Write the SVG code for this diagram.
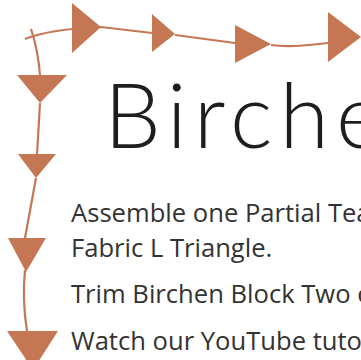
<svg xmlns="http://www.w3.org/2000/svg" width="361" height="360" viewBox="0 0 361 360">
<style>
.ln{fill:none;stroke:#C57753;stroke-width:2.2}
.tri{fill:#C57753}
.body{font-family:"Open Sans",sans-serif;font-size:25.6px;fill:#333}
.title{font-family:Lato,"Liberation Sans",sans-serif;font-weight:300;font-size:90px;letter-spacing:7px;fill:#1e1e1e}
</style>
<rect width="361" height="360" fill="#fff"/>
<g id="connectors">
<path class="ln" d="M25 39 Q50 29 101 27 L152 33 M175 35 L235 43 M271 45 Q290 48 328 43"/>
<path class="ln" d="M31 29 Q38 50 40 75 M40 103 L37 155 M36 178 L25 238 M25 270 Q22 300 27 331"/>
</g>
<g id="arrows">
<polygon class="tri" points="72,3 101,27 72,53"/>
<polygon class="tri" points="152,14 175,34 152,52"/>
<polygon class="tri" points="235,25 271,44 235,63"/>
<polygon class="tri" points="328,12 361,37 328,62"/>
<polygon class="tri" points="17,75 67,75 40,103"/>
<polygon class="tri" points="18,154 56,154 36,178"/>
<polygon class="tri" points="8,238 46,238 26,272"/>
<polygon class="tri" points="7,331 58,331 33,370"/>
</g>
<g id="title"><text class="title" x="104" y="148">Birche</text></g>
<g id="text">
<text class="body" x="71" y="222">Assemble one Partial Tea</text>
<text class="body" x="71" y="257">Fabric L Triangle.</text>
<text class="body" x="71" y="303">Trim Birchen Block Two c</text>
<text class="body" x="71" y="350">Watch our YouTube tuto</text>
</g>
</svg>
